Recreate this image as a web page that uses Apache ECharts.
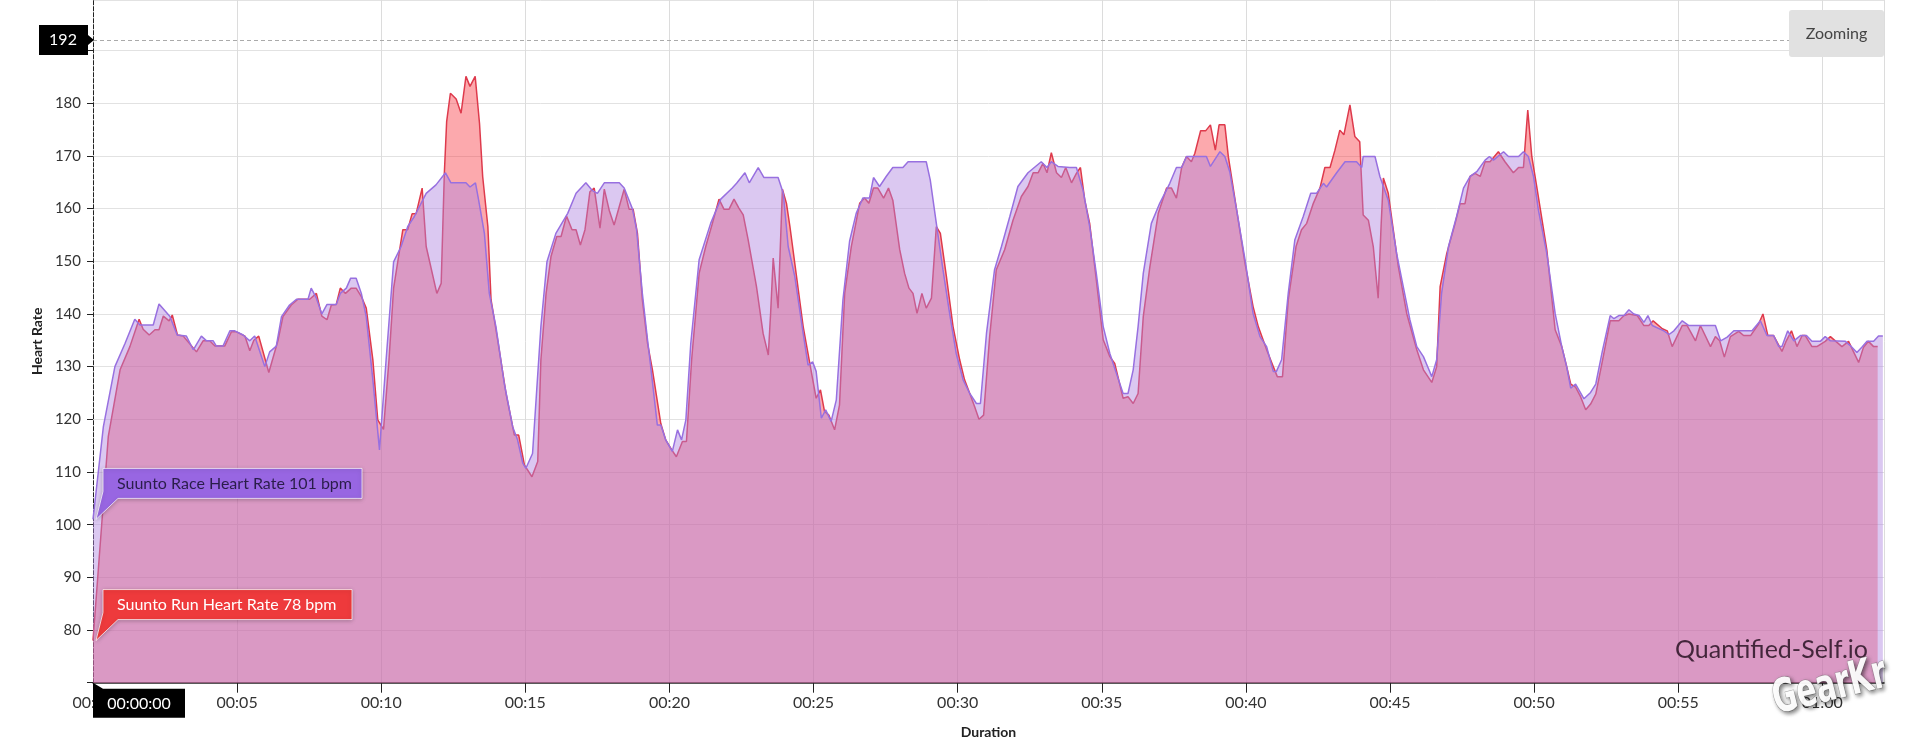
<!DOCTYPE html>
<html><head><meta charset="utf-8">
<script src="https://cdn.jsdelivr.net/npm/echarts@6/dist/echarts.min.js"></script>
<style>html,body{margin:0;padding:0;background:#fff}#c{width:1920px;height:751px}</style>
</head><body><div id="c"></div>
<script>
// ---- DATA (minutes, bpm) ----
const raceName = 'Suunto Race Heart Rate';
const runName = 'Suunto Run Heart Rate';
const raceTime = [0,0.36,0.76,1.11,1.45,1.63,2.09,2.29,2.67,2.92,3.24,3.48,3.76,3.94,4.17,4.28,4.51,4.75,4.92,5.21,5.44,5.61,5.96,6.13,6.36,6.54,6.82,7.06,7.46,7.57,7.75,7.94,8.12,8.44,8.58,8.79,8.94,9.13,9.31,9.48,9.71,9.94,10.17,10.43,10.69,10.92,11.15,11.56,11.9,12.23,12.42,12.94,13.08,13.27,13.38,13.58,13.75,13.98,14.27,14.56,14.73,14.91,15.02,15.25,15.54,15.75,16.06,16.47,16.76,17.1,17.33,17.5,17.74,18.26,18.43,18.72,18.86,19.06,19.24,19.35,19.58,19.7,19.87,20.1,20.28,20.42,20.57,20.74,21.03,21.43,21.78,22.18,22.33,22.62,22.77,23.08,23.28,23.77,23.95,24.12,24.35,24.64,24.81,24.97,25.09,25.27,25.42,25.61,25.79,26.02,26.25,26.48,26.71,26.94,27.08,27.29,27.52,27.75,28.1,28.28,28.91,29.05,29.26,29.49,29.72,29.95,30.19,30.42,30.65,30.79,31,31.28,31.52,31.81,32.09,32.44,32.9,33.1,33.25,33.48,33.89,34.12,34.35,34.58,34.81,35.05,35.28,35.51,35.74,35.91,36.09,36.26,36.44,36.72,37.01,37.36,37.59,37.77,37.94,38.63,38.77,39.1,39.27,39.44,39.68,39.97,40.25,40.49,40.72,40.95,41.06,41.24,41.47,41.7,41.99,42.25,42.45,42.69,42.8,43.15,43.44,43.84,44.02,44.07,44.48,44.65,44.94,45.23,45.46,45.69,45.93,46.16,46.33,46.45,46.62,46.79,47.03,47.31,47.55,47.78,48.01,48.3,48.45,48.59,48.94,49.11,49.46,49.63,49.8,49.98,50.15,50.44,50.73,50.96,51.13,51.27,51.44,51.73,51.96,52.14,52.37,52.64,52.77,52.94,53.12,53.29,53.46,53.64,53.81,53.95,54.1,54.5,54.68,54.85,55.14,55.37,56.29,56.47,56.7,56.93,57.56,57.85,58.08,58.31,58.49,58.6,58.8,59.01,59.24,59.45,59.64,59.93,60.1,60.28,60.8,60.97,61.2,61.37,61.55,61.78,61.95,62.1];
const raceHR = [101,118.6,130,134.4,139,137.9,137.9,141.9,139.5,136,135.8,133.2,135.8,134.9,134.9,133.9,133.9,136.8,136.8,136,134.9,135.8,130,132.8,133.9,139.5,141.7,142.8,142.8,144.9,143,140,141.8,141.8,143.9,144.9,146.8,146.8,143.9,139.5,127.5,114.2,131.3,149.9,152.8,156.6,158.5,162.9,164.5,166.8,164.9,164.9,164.1,164.9,161.6,155.3,143.9,137.6,126.8,118.6,116.1,111.7,110.7,113.5,137.6,149.9,155.3,159.1,162.9,164.9,163.4,162.9,164.9,164.9,163.9,159.9,156,143.9,135.1,130,118.9,118.9,116.1,113.9,118,116.1,119.9,134.4,150.3,157.2,161.8,163.9,164.8,166.8,164.9,167.8,165.9,165.9,162.9,152.8,147.1,136.3,130.3,130.9,129.1,120.2,121.8,119.6,123.7,142.7,153.8,159.1,162,162,165.9,164.2,166.1,167.8,167.8,168.9,168.9,165.4,157.2,148.4,140.1,132.5,127.5,124.9,123,123,136.3,148.4,152.8,158.5,164.2,166.8,168.9,167.8,168.9,168,167.8,167.8,163.5,156.6,147.7,137.6,132.5,128.7,124.9,124.9,129.4,137.6,147.7,157.2,161,164.8,167.8,167.8,169.9,169.9,168,170.8,169.9,167,159.7,150.3,140.1,135.7,133.8,129.1,129.1,131.3,143.9,154.1,158.5,162.9,162.9,164.8,164.1,166.8,168.9,168.9,167.8,169.9,169.9,166.1,161.6,151.5,145.2,138.9,133.8,131.9,129.7,128.1,131.3,143.9,152.8,158.5,163.9,166.1,167,169.2,169.9,169.2,170.8,169.9,169.9,170.8,169.9,166.1,159.7,151.5,140.1,133.8,130,125.9,126.7,123.9,125.1,126.7,133,139.7,139.1,139.7,139.7,140.8,140,139.7,138.4,139.7,137.8,136.8,136.1,136.8,138.7,137.8,137.8,134.9,135.6,136.8,136.8,138.7,135.9,135.9,133.8,133.8,136.8,134.9,135.9,135.9,134.8,134.8,135.7,134.9,134.8,134,132.7,133.7,134.8,134.8,135.8,135.8];
const runTime = [0,0.53,0.94,1.28,1.6,1.74,1.95,2.15,2.29,2.44,2.64,2.75,2.93,3.13,3.59,3.82,4.05,4.23,4.57,4.8,4.98,5.27,5.44,5.58,5.75,6.1,6.42,6.59,6.88,7.11,7.52,7.75,7.94,8.12,8.27,8.44,8.58,8.76,8.96,9.13,9.31,9.48,9.71,9.88,10.08,10.27,10.43,10.75,10.92,11.07,11.21,11.42,11.56,11.93,12.08,12.19,12.27,12.4,12.6,12.77,12.94,13.08,13.26,13.41,13.52,13.7,13.81,14.04,14.33,14.62,14.77,14.97,15.23,15.43,15.54,15.72,15.89,16.09,16.24,16.43,16.62,16.76,16.91,17.07,17.24,17.39,17.59,17.74,17.91,18.08,18.26,18.43,18.6,18.74,18.89,19.06,19.24,19.41,19.7,19.87,20.08,20.24,20.45,20.59,20.77,21.03,21.26,21.49,21.72,21.89,22.07,22.24,22.41,22.56,22.73,23.02,23.25,23.43,23.51,23.6,23.77,23.92,24.06,24.18,24.41,24.64,24.87,25.09,25.24,25.38,25.53,25.73,25.9,26.08,26.31,26.6,26.77,26.92,27.08,27.23,27.43,27.6,27.75,27.99,28.16,28.31,28.45,28.59,28.76,28.91,29.09,29.26,29.4,29.61,29.84,30.07,30.24,30.42,30.59,30.74,30.9,31.11,31.34,31.63,31.92,32.21,32.44,32.62,32.79,32.96,33.1,33.25,33.43,33.6,33.75,33.95,34.12,34.26,34.41,34.58,34.81,35.05,35.28,35.45,35.74,35.91,36.09,36.26,36.44,36.67,36.96,37.25,37.42,37.59,37.77,37.94,38.11,38.23,38.43,38.61,38.77,38.94,39.07,39.27,39.39,39.68,39.97,40.25,40.43,40.72,40.95,41.09,41.27,41.47,41.74,41.93,42.11,42.34,42.57,42.74,42.92,43.09,43.26,43.4,43.61,43.78,43.95,44.07,44.25,44.42,44.59,44.69,44.77,44.94,45.29,45.58,45.93,46.16,46.45,46.62,46.74,46.97,47.26,47.43,47.6,47.78,47.95,48.13,48.3,48.47,48.76,48.99,49.28,49.46,49.63,49.78,49.92,50.09,50.44,50.73,50.96,51.13,51.27,51.44,51.62,51.79,51.96,52.14,52.37,52.64,52.94,53.12,53.29,53.58,53.81,53.98,54.13,54.45,54.62,54.79,55.14,55.31,55.6,55.77,56.12,56.29,56.44,56.6,56.81,57.1,57.27,57.51,57.79,57.94,58.11,58.31,58.6,58.75,58.93,59.12,59.3,59.41,59.64,59.81,60.1,60.28,60.51,60.68,60.91,61.26,61.43,61.6,61.78,61.92];
const runHR = [78,116.7,129.4,133.8,139,137.1,136,137,137,139.6,138.7,139.8,136,135.8,132.8,134.9,134.9,133.9,133.9,136.6,136.6,135.8,133,135,135.8,128.9,135,139.5,141.7,142.8,142.8,143.9,139.6,138.9,141.7,141.8,144.9,143.9,144.9,144.9,143.3,141.1,131.3,119.9,118.1,131.3,144.9,156,156,159,159,163.9,152.8,143.9,145.8,166.7,176.5,181.9,180.8,178.1,185.1,183.2,185.1,176.2,166.1,156.6,142.7,135.1,124.9,117,117,111.3,109.1,112,131.3,143.9,150.9,154.7,154.7,158.6,156,156,153.1,156,163.2,163.9,156.3,163.7,159.7,156.9,160.4,163.7,159.9,159.9,155.3,142.7,134.4,129.4,119.2,116.1,114.2,112.9,115.8,115.8,131.3,147.7,152.8,157.2,161.8,159.9,159.9,161.8,160.1,158.8,154.1,145.2,136.3,132.2,140.1,150.6,141.1,163.7,161,156.6,147.1,137.6,130.6,124,125.6,121.5,120.8,118,122.7,143.9,152.8,161,162,161,163.9,163.9,162,163.9,161.6,152.2,147.7,144.9,143.9,140.1,143.9,141.1,143,156.6,155.3,147.1,137.6,131.3,127.5,124.9,122.4,120,120.8,135.7,148.4,152.2,157.8,162.3,164.2,166.8,166.8,168.6,166.8,170.6,166.8,165.9,167.8,164.9,166.7,167.8,161.6,157.2,146.5,135.1,131.9,130.6,124,124.3,123,124.9,139.5,149,159.1,163.9,163.9,162,167.8,169.9,168.9,170.5,174.8,174.8,175.9,171.1,175.9,175.9,169.9,159.7,149.6,141.4,137.6,133.2,130,128.1,128.1,142.7,152.8,156,157.2,161,163.9,167.8,167.8,171.1,174.9,174,179.7,173.7,172.7,158.8,157.8,152.8,143,156.6,165.8,162.9,149,140.1,133.2,129.4,127,130,145.2,151.5,157.2,160.9,160.9,166.1,166.7,166.1,168.9,168.9,170.8,168.9,166.8,167.8,167.8,178.7,169.9,164.2,152.2,137,133.8,130,126.7,126.1,124.2,121.8,122.9,124.8,131.1,138.7,138.7,139.7,140,139.7,137.8,137.8,138.7,137.2,136.8,133.8,137.8,137.8,134.9,137.8,133.8,135.7,134.9,131.8,135.7,136.7,135.9,135.9,138.1,140,135.9,135.9,132.9,134.9,136.8,133.8,135.9,135.9,133.8,133.8,134.8,135.7,134.6,133.8,134.8,130.8,133.7,134.8,133.8,133.8];
const yLabelValues = [80,90,100,110,120,130,140,150,160,170,180];
const cursorTime = 0;          // minutes
const cursorTimeLabel = '00:00:00';
const cursorHR = 192;
const raceAtCursor = 101;
const runAtCursor = 78;

// ---- CHART ----
const FONT = 'Lato, "Open Sans", sans-serif';
const pad = n => (n < 10 ? '0' : '') + n;
const X_MAX = 62.14, Y_MAX = 199.6;
const chart = echarts.init(document.getElementById('c'));
const option = {
  animation: false,
  grid: { left: 93, right: 36, top: 0, bottom: 68.3 },
  xAxis: {
    type: 'value', min: 0, max: X_MAX, interval: 5,
    name: 'Duration', nameLocation: 'middle', nameGap: 43,
    nameTextStyle: { fontFamily: FONT, fontSize: 14, fontWeight: 'bold', color: '#222' },
    axisLine: { show: true, lineStyle: { color: '#222', width: 1.5 } },
    axisTick: { show: true, length: 10, lineStyle: { color: '#222' } },
    axisLabel: { showMaxLabel: false, margin: 12, fontFamily: FONT, fontSize: 16, color: '#333',
      formatter: m => pad(Math.floor(m / 60)) + ':' + pad(Math.round(m % 60)) },
    splitLine: { show: true, lineStyle: { color: '#dcdcdc' } }
  },
  yAxis: {
    type: 'value', min: 70, max: Y_MAX, interval: 10,
    name: 'Heart Rate', nameLocation: 'middle', nameGap: 48, nameRotate: 90,
    nameTextStyle: { fontFamily: FONT, fontSize: 14, fontWeight: 'bold', color: '#222' },
    axisLine: { show: true, lineStyle: { color: '#222', width: 1, type: [4, 2] } },
    axisTick: { show: true, length: 6, lineStyle: { color: '#222' } },
    axisLabel: { margin: 12, fontFamily: FONT, fontSize: 15, color: '#333', showMaxLabel: false,
      formatter: v => yLabelValues.indexOf(v) >= 0 ? String(v) : '' },
    splitLine: { show: true, lineStyle: { color: '#e2e2e2' } }
  },
  series: [
    { name: runName, type: 'line', symbol: 'none', z: 2,
      data: runTime.map((t, i) => [t, runHR[i]]),
      lineStyle: { color: '#de3a4c', width: 1.5 },
      areaStyle: { color: 'rgba(248,50,60,0.42)', opacity: 1, origin: 'start' } },
    { name: raceName, type: 'line', symbol: 'none', z: 3,
      data: raceTime.map((t, i) => [t, raceHR[i]]),
      lineStyle: { color: '#9870e0', width: 1.5 },
      areaStyle: { color: 'rgba(175,134,225,0.45)', opacity: 1, origin: 'start' },
      markLine: { silent: true, symbol: 'none', label: { show: false },
        lineStyle: { color: '#aaa', type: [4, 3], width: 1 },
        data: [{ yAxis: cursorHR }] } }
  ]
};
chart.setOption(option);

const px = (t, v) => chart.convertToPixel({ gridIndex: 0 }, [t, v]);
const g = [];
// 192 marker
const m192 = px(cursorTime, cursorHR);
g.push({ type: 'polygon', shape: { points: [[m192[0]-54, m192[1]-15],[m192[0]-5, m192[1]-15],[m192[0]-5, m192[1]-5],[m192[0]+1, m192[1]],[m192[0]-5, m192[1]+5],[m192[0]-5, m192[1]+15],[m192[0]-54, m192[1]+15]] }, style: { fill: '#000' }, z: 10 });
g.push({ type: 'text', x: m192[0]-30, y: m192[1], style: { text: String(cursorHR), fill: '#fff', font: '16px ' + FONT, align: 'center', verticalAlign: 'middle' }, z: 11 });
// tooltips
function tip(val, label, fill, textFill, w) {
  const p = px(cursorTime, val); const tx = p[0] + 3, ty = p[1];
  g.push({ type: 'polygon', shape: { points: [[tx+7, ty-51],[tx+7+w, ty-51],[tx+7+w, ty-21],[tx+22, ty-21],[tx, ty],[tx+7, ty-28]] },
    style: { fill: fill, stroke: 'rgba(255,255,255,0.7)', lineWidth: 1, shadowBlur: 4, shadowColor: 'rgba(0,0,0,0.25)', shadowOffsetY: 1 }, z: 10 });
  g.push({ type: 'text', x: tx + 21, y: ty - 36, style: { text: label, fill: textFill, font: '16px ' + FONT, align: 'left', verticalAlign: 'middle' }, z: 11 });
}
tip(raceAtCursor, raceName + ' ' + raceAtCursor + ' bpm', '#9866e2', '#2a1d4a', 259);
tip(runAtCursor, runName + ' ' + runAtCursor + ' bpm', '#ee3a3c', '#ffffff', 249);
// time box
const pb = px(cursorTime, 70);
g.push({ type: 'polygon', shape: { points: [[pb[0], pb[1]],[pb[0]+10, pb[1]+6],[pb[0]+92, pb[1]+6],[pb[0]+92, pb[1]+35],[pb[0], pb[1]+35]] }, style: { fill: '#000' }, z: 10 });
g.push({ type: 'text', x: pb[0]+46, y: pb[1]+21, style: { text: cursorTimeLabel, fill: '#fff', font: '16px ' + FONT, align: 'center', verticalAlign: 'middle' }, z: 11 });
// zoom button
const tr = px(X_MAX, Y_MAX);
g.push({ type: 'rect', shape: { x: tr[0]-95, y: 10, width: 95, height: 47, r: 3 }, style: { fill: '#e1e1e1' }, z: 10 });
g.push({ type: 'text', x: tr[0]-47.5, y: 33.5, style: { text: 'Zooming', fill: '#444', font: '16px ' + FONT, align: 'center', verticalAlign: 'middle' }, z: 11 });
// watermarks
g.push({ type: 'text', x: tr[0]-16, y: 650, style: { text: 'Quantified-Self.io', fill: 'rgba(30,10,25,0.8)', font: '25px ' + FONT, align: 'right', verticalAlign: 'middle' }, z: 9 });
g.push({ type: 'text', x: 1830, y: 688, rotation: 0.24, scaleX: 0.78, scaleY: 1.1, style: { text: 'GearKr', fill: 'rgba(255,255,255,0.95)', font: 'bold 42px "Liberation Sans Narrow", "DejaVu Sans Condensed", sans-serif', align: 'center', verticalAlign: 'middle', stroke: 'rgba(120,120,120,0.6)', lineWidth: 1, textShadowBlur: 4, textShadowColor: 'rgba(0,0,0,0.55)', textShadowOffsetX: 2, textShadowOffsetY: 2 }, z: 12 });
chart.setOption({ graphic: g });
</script>
</body></html>
